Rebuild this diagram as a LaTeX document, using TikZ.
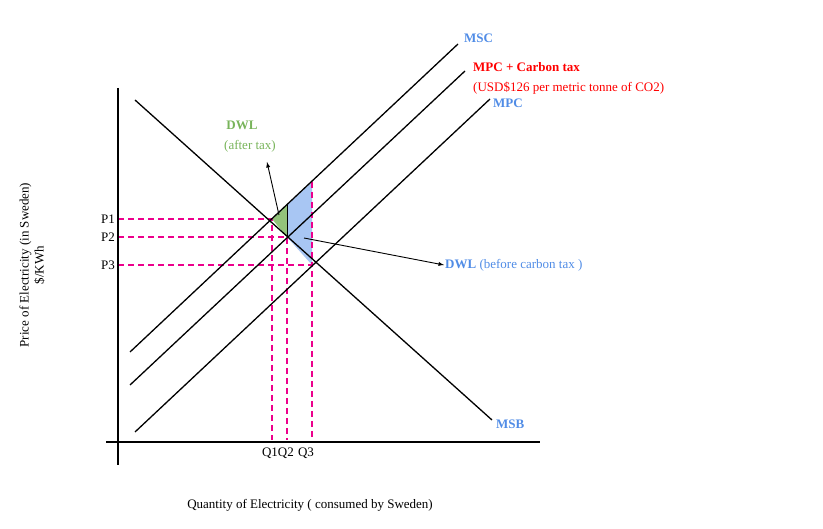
\documentclass[tikz,border=0pt]{standalone}
\usepackage{fontspec}
\setmainfont{Liberation Serif}
\definecolor{lblue}{RGB}{80,140,230}
\definecolor{lgreen}{RGB}{120,180,90}
\begin{document}
\begin{tikzpicture}[x=1pt,y=-1pt,
  curve/.style={black,line width=1.3pt},
  guide/.style={magenta,line width=1.1pt,dash pattern=on 6pt off 4pt},
  lbl/.style={font=\fontsize{13}{15}\selectfont,inner sep=1pt},
  blbl/.style={font=\bfseries\fontsize{13}{15}\selectfont,inner sep=1pt},
  ptr/.style={-latex,line width=0.9pt}]
\useasboundingbox (0,0) rectangle (823,529);
\coordinate (E1) at (272,219);
\coordinate (E2) at (287,237);
\coordinate (E3) at (312,265);
\coordinate (T2) at (287,205);
\coordinate (T3) at (312,182);
\fill[lgreen!80] (E1) -- (T2) -- (E2) -- cycle;
\fill[lblue!50!white] (T2) -- (T3) -- (E3) -- (E2) -- cycle;
\draw[black,line width=0.8pt] (T2) -- (E2);
\draw[guide] (118,219) -- (E1) -- (272,440);
\draw[guide] (118,237) -- (E2) -- (287,440);
\draw[guide] (118,265) -- (E3) -- (312,440);
\draw[guide] (T3) -- (E3);
\draw[line width=1.1pt] (118,88) -- (118,465);
\draw[line width=1.1pt] (106,442) -- (540,442);
\coordinate (msc0) at (130,352); \coordinate (msc1) at (458,44);
\coordinate (tax0) at (130,385); \coordinate (tax1) at (465,71);
\coordinate (mpc0) at (135,432); \coordinate (mpc1) at (490,99);
\coordinate (msb0) at (135,100); \coordinate (msb1) at (492,420);
\draw[curve] (msc0) -- (msc1);
\draw[curve] (tax0) -- (tax1);
\draw[curve] (mpc0) -- (mpc1);
\draw[curve] (msb0) -- (msb1);
\node[blbl,anchor=west,text=lblue] (lmsc) at (463,38) {MSC};
\node[blbl,anchor=west,text=red] (ltax) at (472,67) {MPC + Carbon tax};
\node[lbl,anchor=west,text=red] (ltax2) at (472,88) {(USD\$126 per metric tonne of CO2)};
\node[blbl,anchor=west,text=lblue] (lmpc) at (492,103) {MPC};
\node[blbl,anchor=west,text=lblue] (lmsb) at (495,424) {MSB};
\node[blbl,text=lgreen] (dwla) at (242,125) {DWL};
\node[lbl,text=lgreen] (dwla2) at (250,146) {(after tax)};
\node[lbl,anchor=west,text=lblue] (dwlb) at (444,265) {\textbf{DWL} (before carbon tax )};
\coordinate (ga) at (279,215);
\coordinate (gb) at (267,162);
\draw[ptr] (ga) -- (gb);
\coordinate (ba) at (304,238);
\draw[ptr] (ba) -- (dwlb.west);
\node[lbl,anchor=east] (p1) at (116,219) {P1};
\node[lbl,anchor=east] (p2) at (116,237) {P2};
\node[lbl,anchor=east] (p3) at (116,265) {P3};
\node[lbl] (q) at (288,453) {Q1Q2\,\,Q3};
\node[lbl,rotate=90,align=center] (ylab) at (32,265) {Price of Electricity (in Sweden)\\ \$/KWh};
\node[lbl] (xlab) at (310,505) {Quantity of Electricity ( consumed by Sweden)};
\end{tikzpicture}
\end{document}
